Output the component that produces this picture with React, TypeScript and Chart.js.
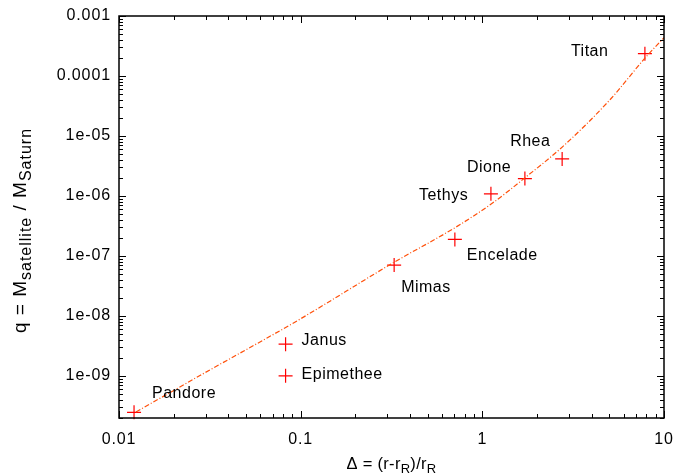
import React, { useEffect, useRef } from 'react';
import { Chart, registerables } from 'chart.js';

Chart.register(...registerables);

// ---- data ----
const moonNames = ['Pandore', 'Janus', 'Epimethee', 'Mimas', 'Encelade', 'Tethys', 'Dione', 'Rhea', 'Titan'];
const moonDelta = [0.0121, 0.0826, 0.0826, 0.327, 0.706, 1.115, 1.715, 2.75, 7.85];
const moonQ = [2.49e-10, 3.4e-9, 1.01e-9, 7.08e-8, 1.89e-7, 1.09e-6, 1.95e-6, 4.15e-6, 2.36e-4];

const curveDelta = [0.0124, 0.0279, 0.0991, 0.326, 0.706, 1.143, 1.715, 2.78, 5.04, 7.85, 10];
const curveQ = [2.52e-10, 1.02e-9, 8.87e-9, 7.85e-8, 2.96e-7, 7.71e-7, 2.01e-6, 6.73e-6, 4.02e-5, 1.98e-4, 4.36e-4];

const xTickValues = [0.01, 0.1, 1, 10];
const xTickLabels = ['0.01', '0.1', '1', '10'];
const yTickValues = [1e-9, 1e-8, 1e-7, 1e-6, 1e-5, 1e-4, 1e-3];
const yTickLabels = ['1e-09', '1e-08', '1e-07', '1e-06', '1e-05', '0.0001', '0.001'];

const X_MIN = 0.01;
const X_MAX = 10;
const Y_MIN = 2e-10;
const Y_MAX = 1e-3;

// label offsets (px) relative to each marker
const labelOffsets: [number, number][] = [
  [18, -19], [16, -4], [16, -1], [7, 23], [12, 16], [-72, 2], [-58, -11], [-52, -17], [-74, -2],
];

const FONT = '"Liberation Sans", Arial, Helvetica, sans-serif';

function minorValues(min: number, max: number) {
  const out: number[] = [];
  for (let e = Math.floor(Math.log10(min)); e <= Math.ceil(Math.log10(max)); e++) {
    for (let k = 1; k <= 9; k++) {
      const v = k * Math.pow(10, e);
      if (v >= min * 0.999 && v <= max * 1.001) out.push(v);
    }
  }
  return out;
}

const spacingPlugin = {
  id: 'spacing',
  beforeDraw(chart: any) {
    chart.ctx.letterSpacing = '0.9px';
  },
  afterDatasetsDraw(chart: any) {
    chart.ctx.letterSpacing = '0px';
  },
};

const framePlugin = {
  id: 'frame',
  afterDraw(chart: any) {
    const { ctx, chartArea: a, scales } = chart;
    const x = scales.x;
    const y = scales.y;
    ctx.save();
    ctx.strokeStyle = '#000';
    ctx.lineWidth = 1;
    ctx.beginPath();
    for (const v of minorValues(X_MIN, X_MAX)) {
      const major = Math.abs(Math.log10(v) - Math.round(Math.log10(v))) < 1e-6;
      const len = major ? 7 : 4;
      const p = Math.round(x.getPixelForValue(v)) + 0.5;
      ctx.moveTo(p, a.bottom);
      ctx.lineTo(p, a.bottom - len);
      ctx.moveTo(p, a.top);
      ctx.lineTo(p, a.top + len);
    }
    for (const v of minorValues(Y_MIN, Y_MAX)) {
      const major = Math.abs(Math.log10(v) - Math.round(Math.log10(v))) < 1e-6;
      const len = major ? 7 : 4;
      const p = Math.round(y.getPixelForValue(v)) + 0.5;
      ctx.moveTo(a.left, p);
      ctx.lineTo(a.left + len, p);
      ctx.moveTo(a.right, p);
      ctx.lineTo(a.right - len, p);
    }
    ctx.stroke();
    ctx.lineWidth = 1.5;
    ctx.strokeRect(a.left, a.top, a.right - a.left, a.bottom - a.top);

    // axis titles with subscripts
    const drawPieces = (pieces: [string, boolean][], main: number, sub: number, drop: number, sp: number) => {
      ctx.letterSpacing = sp + 'px';
      const widths = pieces.map(([t, s]) => {
        ctx.font = (s ? sub : main) + 'px ' + FONT;
        return ctx.measureText(t).width;
      });
      const total = widths.reduce((acc, w) => acc + w, 0);
      let cx = -total / 2;
      pieces.forEach(([t, s], i) => {
        ctx.font = (s ? sub : main) + 'px ' + FONT;
        ctx.fillText(t, cx, s ? drop : 0);
        cx += widths[i];
      });
      ctx.letterSpacing = '0px';
    };
    ctx.fillStyle = '#000';
    ctx.textBaseline = 'alphabetic';
    ctx.textAlign = 'left';
    ctx.save();
    ctx.translate((a.left + a.right) / 2, 469);
    drawPieces([['Δ = (r-r', false], ['R', true], [')/r', false], ['R', true]], 16.5, 13, 4, 0.3);
    ctx.restore();
    ctx.save();
    ctx.translate(26, 230.5);
    ctx.rotate(-Math.PI / 2);
    drawPieces([['q = M', false], ['satellite', true], [' / M', false], ['Saturn', true]], 19, 16, 5, 1);
    ctx.restore();
    ctx.restore();
  },
};

const labelPlugin = {
  id: 'moonLabels',
  afterDatasetsDraw(chart: any) {
    const { ctx } = chart;
    const meta = chart.getDatasetMeta(1);
    ctx.save();
    ctx.font = '16px ' + FONT;
    ctx.letterSpacing = '0.5px';
    ctx.fillStyle = '#000';
    ctx.textAlign = 'left';
    ctx.textBaseline = 'middle';
    meta.data.forEach((el: any, i: number) => {
      const [dx, dy] = labelOffsets[i];
      ctx.fillText(moonNames[i], el.x + dx, el.y + dy);
    });
    ctx.letterSpacing = '0px';
    ctx.restore();
  },
};

export default function App() {
  const ref = useRef<HTMLCanvasElement>(null);
  useEffect(() => {
    const chart = new Chart(ref.current as HTMLCanvasElement, {
      type: 'line',
      data: {
        datasets: [
          {
            label: 'model',
            data: curveDelta.map((d, i) => ({ x: d, y: curveQ[i] })),
            borderColor: 'rgb(255,80,10)',
            borderWidth: 1.2,
            borderDash: [5, 2, 1, 2],
            pointRadius: 0,
            cubicInterpolationMode: 'monotone',
            fill: false,
          },
          {
            label: 'satellites',
            data: moonDelta.map((d, i) => ({ x: d, y: moonQ[i] })),
            showLine: false,
            pointStyle: 'cross',
            pointRadius: 7,
            pointBorderWidth: 1.2,
            pointBorderColor: 'rgb(255,0,0)',
            borderColor: 'rgb(255,0,0)',
            clip: false,
          },
        ],
      } as any,
      options: {
        animation: false,
        responsive: false,
        devicePixelRatio: 1,
        layout: { padding: { left: 0, top: 16, right: 12, bottom: 0 } },
        plugins: { legend: { display: false }, tooltip: { enabled: false } },
        scales: {
          x: {
            type: 'logarithmic',
            min: X_MIN,
            max: X_MAX,
            grid: { display: false, drawTicks: false },
            border: { display: false },
            afterBuildTicks: (s: any) => {
              s.ticks = xTickValues.map((v) => ({ value: v }));
            },
            afterFit: (s: any) => {
              s.height = 55;
              s.paddingLeft = 0;
              s.paddingRight = 0;
            },
            ticks: {
              autoSkip: false,
              maxRotation: 0,
              padding: 12,
              color: '#000',
              font: { family: FONT, size: 16 },
              callback: (_v: any, i: number) => xTickLabels[i],
            },
          },
          y: {
            type: 'logarithmic',
            min: Y_MIN,
            max: Y_MAX,
            grid: { display: false, drawTicks: false },
            border: { display: false },
            afterBuildTicks: (s: any) => {
              s.ticks = yTickValues.map((v) => ({ value: v }));
            },
            afterFit: (s: any) => {
              s.width = 119;
              s.paddingTop = 0;
              s.paddingBottom = 0;
            },
            ticks: {
              autoSkip: false,
              padding: 8,
              color: '#000',
              font: { family: FONT, size: 16 },
              callback: (_v: any, i: number) => yTickLabels[i],
            },
          },
        },
      } as any,
      plugins: [spacingPlugin, framePlugin, labelPlugin],
    });
    return () => chart.destroy();
  }, []);
  return (
    <div style={{ position: 'fixed', left: 0, top: 0, width: 676, height: 473, background: '#fff' }}>
      <canvas ref={ref} width={676} height={473} style={{ display: 'block', width: 676, height: 473 }} />
    </div>
  );
}
